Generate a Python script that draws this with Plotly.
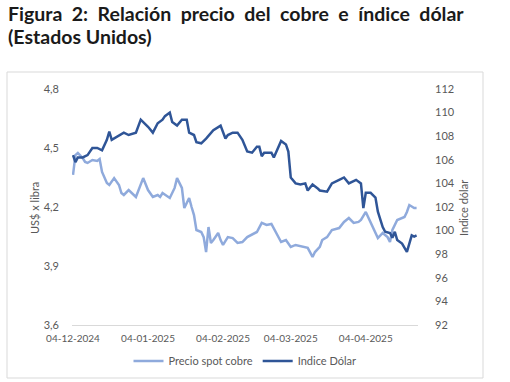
import plotly.graph_objects as go

# ---- data ----
cobre_fechas = [
    "2024-12-04", "2024-12-05", "2024-12-06", "2024-12-08", "2024-12-09", "2024-12-10",
    "2024-12-12", "2024-12-14", "2024-12-15", "2024-12-16", "2024-12-18", "2024-12-19",
    "2024-12-21", "2024-12-23", "2024-12-24", "2024-12-25", "2024-12-27", "2024-12-29",
    "2024-12-30", "2025-01-02", "2025-01-04", "2025-01-06", "2025-01-08", "2025-01-09",
    "2025-01-10", "2025-01-13", "2025-01-15", "2025-01-16", "2025-01-18", "2025-01-19",
    "2025-01-21", "2025-01-22", "2025-01-23", "2025-01-24", "2025-01-26", "2025-01-27",
    "2025-01-28", "2025-01-29", "2025-01-30", "2025-01-31", "2025-02-02", "2025-02-03",
    "2025-02-04", "2025-02-06", "2025-02-08", "2025-02-10", "2025-02-12", "2025-02-14",
    "2025-02-16", "2025-02-18", "2025-02-20", "2025-02-22", "2025-02-24", "2025-02-26",
    "2025-02-28", "2025-03-02", "2025-03-04", "2025-03-06", "2025-03-09", "2025-03-11",
    "2025-03-13", "2025-03-14", "2025-03-16", "2025-03-17", "2025-03-19", "2025-03-21",
    "2025-03-24", "2025-03-26", "2025-03-28", "2025-03-30", "2025-04-01", "2025-04-02",
    "2025-04-04", "2025-04-05", "2025-04-07", "2025-04-09", "2025-04-11", "2025-04-13",
    "2025-04-14", "2025-04-15", "2025-04-17", "2025-04-20", "2025-04-21", "2025-04-22",
    "2025-04-24", "2025-04-25",
]
cobre_valores = [
    4.363, 4.464, 4.475, 4.449, 4.429, 4.424,
    4.439, 4.434, 4.444, 4.378, 4.322, 4.312,
    4.347, 4.312, 4.271, 4.261, 4.286, 4.261,
    4.251, 4.347, 4.286, 4.251, 4.261, 4.251,
    4.271, 4.246, 4.297, 4.347, 4.297, 4.195,
    4.246, 4.200, 4.159, 4.083, 4.073, 4.047,
    3.971, 4.098, 4.017, 4.032, 4.068, 4.032,
    4.007, 4.047, 4.042, 4.017, 4.022, 4.047,
    4.058, 4.073, 4.119, 4.109, 4.114, 4.068,
    4.022, 4.032, 3.997, 4.007, 3.997, 3.992,
    3.946, 3.971, 3.997, 4.032, 4.047, 4.083,
    4.093, 4.124, 4.144, 4.119, 4.124, 4.134,
    4.175, 4.149, 4.093, 4.042, 4.068, 4.047,
    4.022, 4.083, 4.134, 4.149, 4.175, 4.210,
    4.195, 4.195,
]

dolar_fechas = [
    "2024-12-04", "2024-12-05", "2024-12-06", "2024-12-08", "2024-12-10", "2024-12-12",
    "2024-12-14", "2024-12-16", "2024-12-18", "2024-12-19", "2024-12-20", "2024-12-23",
    "2024-12-25", "2024-12-27", "2024-12-30", "2025-01-01", "2025-01-04", "2025-01-06",
    "2025-01-08", "2025-01-10", "2025-01-11", "2025-01-13", "2025-01-14", "2025-01-16",
    "2025-01-18", "2025-01-20", "2025-01-21", "2025-01-23", "2025-01-24", "2025-01-26",
    "2025-01-28", "2025-01-31", "2025-02-03", "2025-02-05", "2025-02-06", "2025-02-08",
    "2025-02-10", "2025-02-12", "2025-02-14", "2025-02-16", "2025-02-18", "2025-02-19",
    "2025-02-20", "2025-02-21", "2025-02-24", "2025-02-25", "2025-02-27", "2025-02-28",
    "2025-03-02", "2025-03-03", "2025-03-04", "2025-03-06", "2025-03-08", "2025-03-10",
    "2025-03-11", "2025-03-13", "2025-03-15", "2025-03-16", "2025-03-19", "2025-03-21",
    "2025-03-24", "2025-03-26", "2025-03-28", "2025-03-31", "2025-04-02", "2025-04-03",
    "2025-04-04", "2025-04-06", "2025-04-08", "2025-04-09", "2025-04-11", "2025-04-12",
    "2025-04-14", "2025-04-15", "2025-04-16", "2025-04-17", "2025-04-19", "2025-04-21",
    "2025-04-22", "2025-04-23", "2025-04-24", "2025-04-25",
]
dolar_valores = [
    106.4, 105.8, 106.2, 106.2, 106.4, 107.0,
    107.0, 106.8, 107.7, 108.4, 107.7, 108.1,
    108.3, 108.1, 108.3, 109.4, 108.8, 108.3,
    109.1, 109.4, 109.7, 110.0, 109.2, 108.9,
    109.4, 109.4, 108.3, 108.1, 107.5, 107.4,
    107.8, 108.5, 108.9, 107.8, 108.1, 108.3,
    108.3, 107.7, 106.7, 106.6, 107.1, 107.1,
    106.3, 106.6, 106.6, 106.2, 107.1, 107.6,
    107.3, 106.7, 104.5, 104.0, 103.9, 104.0,
    103.4, 103.9, 103.6, 103.4, 103.3, 104.0,
    104.3, 104.5, 104.0, 104.3, 104.0, 101.9,
    103.2, 103.2, 102.8, 101.6, 100.3, 99.9,
    99.8, 99.4, 99.9, 99.2, 98.9, 98.2,
    98.9, 99.6, 99.5, 99.6,
]

x_ticks = ["2024-12-04", "2025-01-04", "2025-02-04", "2025-03-04", "2025-04-04"]
y_left_ticks = [3.6, 3.9, 4.2, 4.5, 4.8]
y_right_ticks = [92, 94, 96, 98, 100, 102, 104, 106, 108, 110, 112]

titulo_palabras = ["Figura", "2:", "Relación", "precio", "del", "cobre", "e", "índice", "dólar"]
titulo_linea2 = "(Estados Unidos)"
titulo_eje_izq = "US$ x libra"
titulo_eje_der = "Indice dólar"

# ---- figure ----
FONT = "Lato"
GRAY = "#595959"
PL, PR, PT, PB = 72, 418, 89, 325
PW, PH = PR - PL, PB - PT


def px_x(px):
    return (px - PL) / PW


def px_y(py):
    return (PB - py) / PH


fig = go.Figure()
fig.add_trace(go.Scatter(
    x=cobre_fechas, y=cobre_valores, name="Precio spot cobre", mode="lines",
    line=dict(color="#8FAADC", width=2.5), yaxis="y",
))
fig.add_trace(go.Scatter(
    x=dolar_fechas, y=dolar_valores, name="Indice Dólar", mode="lines",
    line=dict(color="#2F5597", width=2.5), yaxis="y2",
))

# title: justified first line (word gaps widened) + second line
gap = " \u00a0"
title_font = dict(family=FONT, size=19.5, color="#1a1a1a", weight="bold")
fig.add_annotation(
    text=gap.join(titulo_palabras), xref="paper", yref="paper",
    x=px_x(6), y=px_y(14), xanchor="left", yanchor="middle",
    showarrow=False, font=title_font,
)
fig.add_annotation(
    text=titulo_linea2, xref="paper", yref="paper",
    x=px_x(6), y=px_y(37), xanchor="left", yanchor="middle",
    showarrow=False, font=title_font,
)
# axis titles
fig.add_annotation(
    text=titulo_eje_izq, xref="paper", yref="paper", x=px_x(34), y=px_y(208),
    xanchor="center", yanchor="middle", textangle=-90, showarrow=False,
    font=dict(family=FONT, size=11, color=GRAY),
)
fig.add_annotation(
    text=titulo_eje_der, xref="paper", yref="paper", x=px_x(463), y=px_y(208),
    xanchor="center", yanchor="middle", textangle=-90, showarrow=False,
    font=dict(family=FONT, size=11, color=GRAY),
)

fig.update_layout(
    width=510, height=382,
    margin=dict(l=PL, r=510 - PR, t=PT, b=382 - PB, autoexpand=False),
    paper_bgcolor="white", plot_bgcolor="white",
    separators=",.",
    font=dict(family=FONT, size=11, color=GRAY),
    xaxis=dict(
        type="date", range=["2024-12-03 14:00", "2025-04-25 14:00"],
        tickvals=x_ticks, tickformat="%d-%m-%Y", showgrid=False,
        showline=True, linecolor="#d9d9d9", linewidth=1, ticks="",
        ticklabelstandoff=4, tickfont=dict(size=10, color=GRAY), zeroline=False,
    ),
    yaxis=dict(
        range=[3.6, 4.8], tickvals=y_left_ticks, tickformat=".1f",
        showgrid=False, zeroline=False, showline=False, ticks="",
        ticklabelstandoff=12,
    ),
    yaxis2=dict(
        range=[92, 112], tickvals=y_right_ticks, overlaying="y", side="right",
        showgrid=False, zeroline=False, showline=False, ticks="",
        ticklabelstandoff=16,
    ),
    legend=dict(
        orientation="h", x=0.5, xanchor="center", y=px_y(361), yanchor="middle",
        font=dict(size=11, color=GRAY), bgcolor="rgba(0,0,0,0)",
        itemwidth=30,
    ),
    showlegend=True,
)

fig.add_shape(
    type="rect", xref="paper", yref="paper",
    x0=px_x(7), x1=px_x(483), y0=px_y(378), y1=px_y(72),
    line=dict(color="#d9d9d9", width=1), fillcolor="rgba(0,0,0,0)", layer="below",
)

fig.write_html(
    "out.html",
    config={"displayModeBar": False},
    post_script="document.body.style.margin='0';",
)
